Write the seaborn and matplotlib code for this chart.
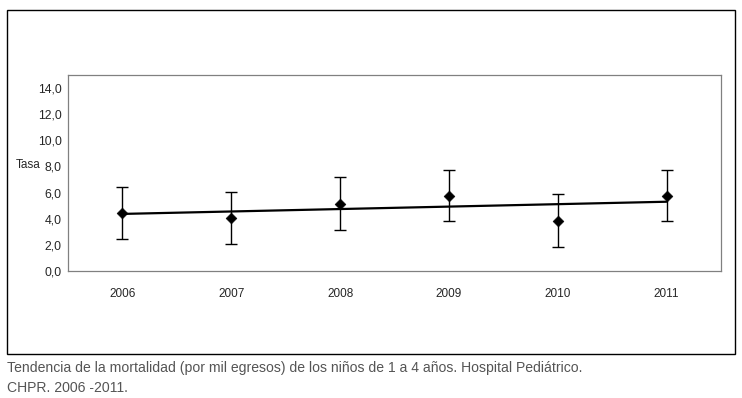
import numpy as np
import pandas as pd
import matplotlib.pyplot as plt
import seaborn as sns
from matplotlib.patches import Rectangle
from matplotlib.ticker import FixedLocator, FuncFormatter

# ── Data ──────────────────────────────────────────────
years = ['2006', '2007', '2008', '2009', '2010', '2011']
tasa = [4.46, 4.05, 5.13, 5.76, 3.85, 5.76]
lower = [2.47, 2.07, 3.16, 3.80, 1.86, 3.80]
upper = [6.43, 6.02, 7.19, 7.75, 5.91, 7.75]
yticks = [0, 2, 4, 6, 8, 10, 12, 14]
caption = ("Tendencia de la mortalidad (por mil egresos) de los niños de 1 a 4 años. "
           "Hospital Pediátrico.\nCHPR. 2006 -2011.")

df = pd.DataFrame({'year': years, 'tasa': tasa, 'lower': lower, 'upper': upper})
df['pos'] = np.arange(len(df))

sns.set_style('white')
plt.rcParams['font.family'] = ['Liberation Sans', 'DejaVu Sans']

fig = plt.figure(figsize=(7.42, 3.98), dpi=100)
ax = fig.add_axes([68/742, 1 - 271/398, (721-68)/742, (271-75)/398])

# trend line
sns.regplot(data=df, x='pos', y='tasa', scatter=False, ci=None, truncate=True,
            line_kws={'color': 'black', 'lw': 1.6}, ax=ax)

# error bars
ax.errorbar(df['pos'], df['tasa'],
            yerr=[df['tasa'] - df['lower'], df['upper'] - df['tasa']],
            fmt='none', ecolor='black', elinewidth=1, capsize=4, capthick=1, zorder=3)

sns.scatterplot(data=df, x='pos', y='tasa', marker='D', s=30, color='black',
                edgecolor='black', zorder=4, ax=ax)

ax.set_xlim(-0.5, len(years) - 0.5)
ax.set_ylim(0, 15)
ax.set_xticks(df['pos'])
ax.set_xticklabels(years, fontsize=8.5)
ax.xaxis.set_minor_locator(FixedLocator(np.arange(-0.5, len(years), 1.0)))
ax.tick_params(axis='x', which='major', length=0, pad=12)
ax.tick_params(axis='x', which='minor', length=4, width=0.8, color='#808080', direction='out')
ax.set_yticks(yticks)
ax.yaxis.set_major_formatter(FuncFormatter(lambda v, p: f'{v:.1f}'.replace('.', ',')))
ax.tick_params(axis='y', length=3, width=0.8, color='#808080', direction='out', labelsize=8.8, pad=1.5)
ax.set_xlabel('')
ax.set_ylabel('Tasa', rotation=0, fontsize=8.5, ha='right', va='center')
ax.yaxis.set_label_coords((41 - 68) / 653, (271 - 165) / 196)
for s in ax.spines.values():
    s.set_color('#808080')
    s.set_linewidth(0.9)

# outer frame and caption
fig.patches.append(Rectangle((7/742, 1 - 354/398), 728/742, 344/398,
                             transform=fig.transFigure, fill=False,
                             edgecolor='black', lw=1.0))
fig.text(7/742, 1 - 361/398, caption, ha='left', va='top', fontsize=10.1,
         color='#555555', linespacing=1.5)

fig.savefig('out.png', dpi=100)
